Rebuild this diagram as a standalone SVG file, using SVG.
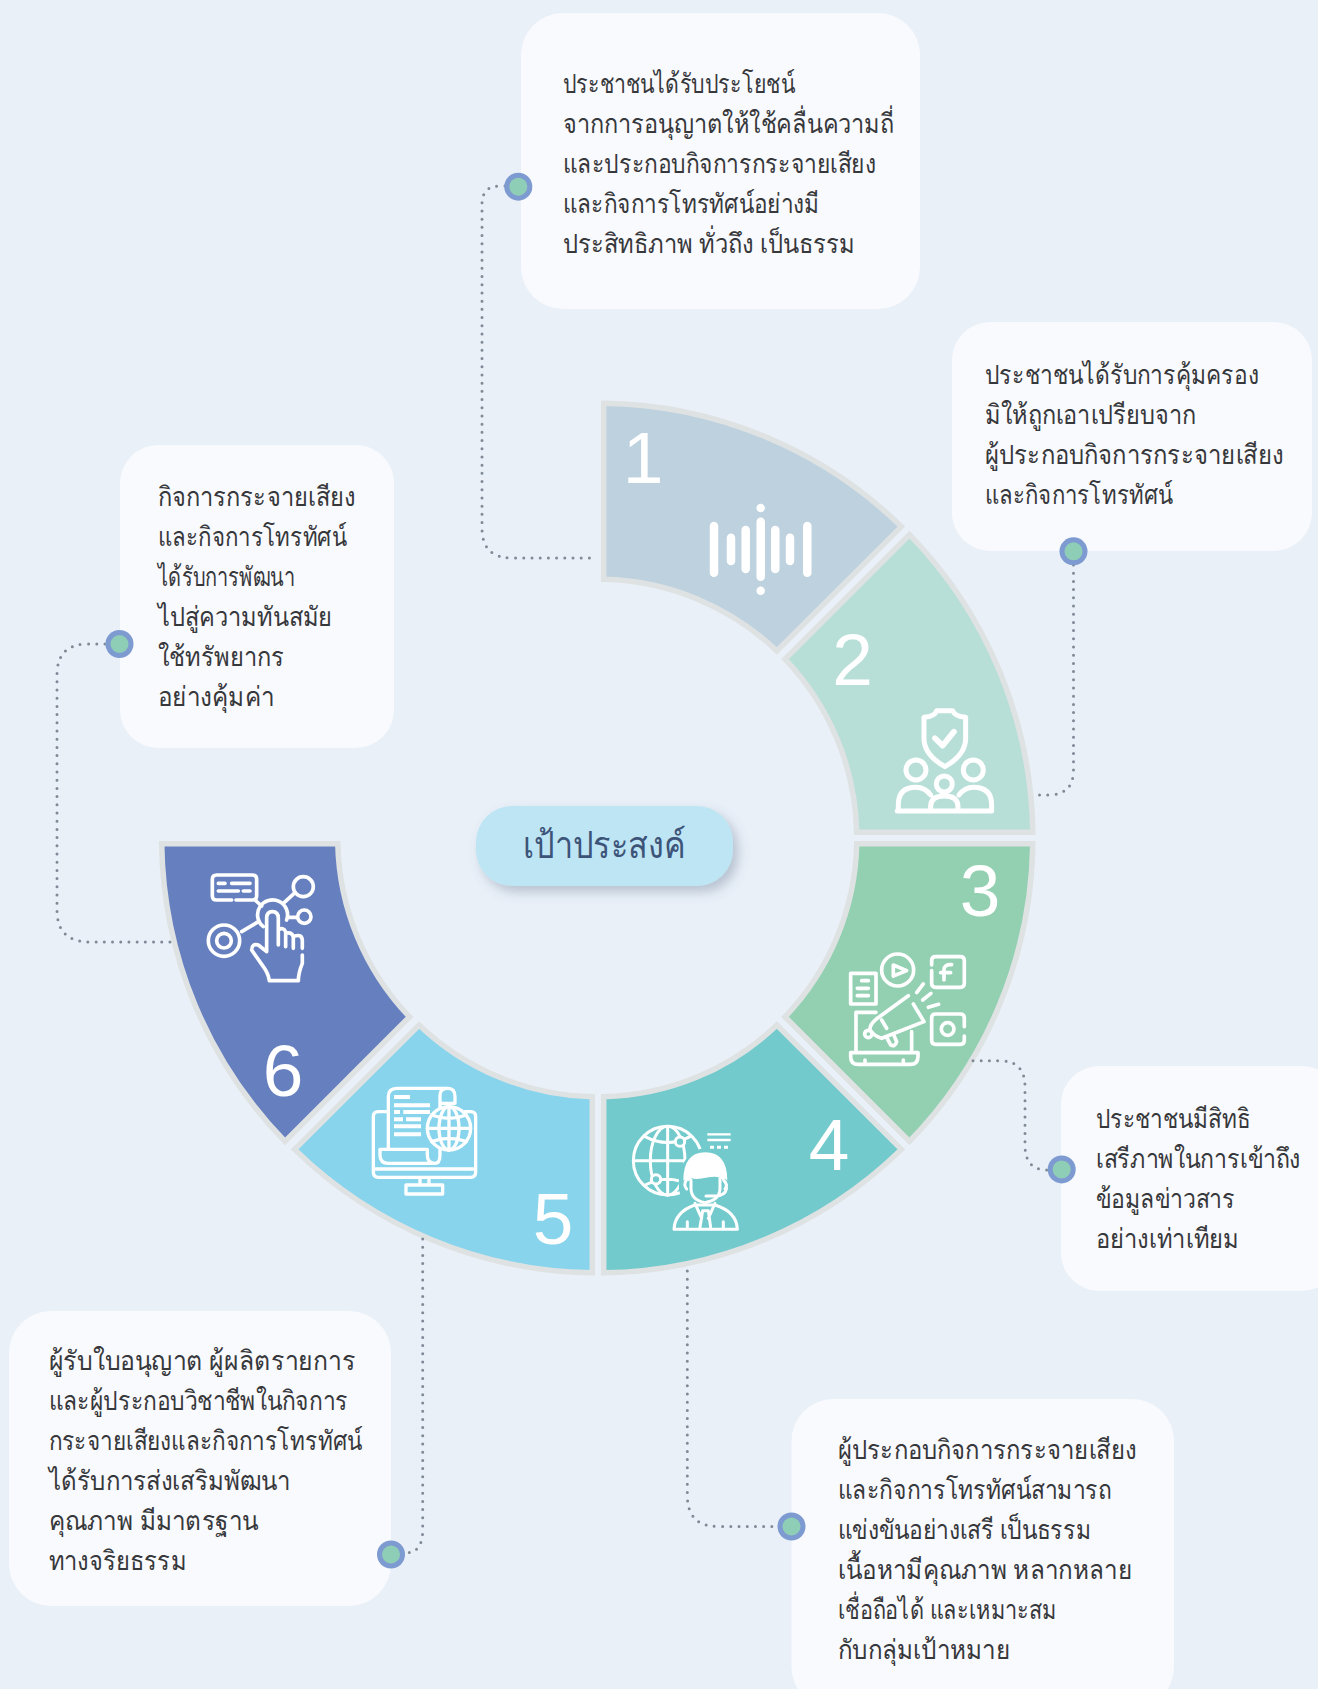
<svg xmlns="http://www.w3.org/2000/svg" width="1318" height="1689" viewBox="0 0 1318 1689">
<defs>
<style>
.seg{stroke:#DFE2E3;stroke-width:5.5;stroke-linejoin:miter}
.num{font-family:"Liberation Sans",Arial,sans-serif;font-size:73px;fill:#fff;text-anchor:middle}
.card{fill:#F9FAFD}
.t{font-family:"Noto Sans","Liberation Sans",sans-serif;font-size:27px;fill:#37383C;font-weight:300}
.conn{fill:none;stroke:#7F8A96;stroke-width:3;stroke-linecap:round;stroke-dasharray:0 8.2}
.do{fill:#7E9BD1}.di{fill:#8FCEB6}
.ic{fill:none;stroke:#fff;stroke-linecap:round;stroke-linejoin:round}
.w{fill:#fff;stroke:none}
</style>
<filter id="sh" x="-20%" y="-30%" width="150%" height="180%"><feDropShadow dx="5" dy="6" stdDeviation="6" flood-color="#5A6A85" flood-opacity=".35"/></filter>
</defs>
<rect width="1318" height="1689" fill="#E9F0F8"/>
<g id="segment-1">
<path class="seg" fill="#BDD1DE" d="M603.7 403.2A434.8 434.8 0 0 1 901.4 526.6L776.9 651A258.8 258.8 0 0 0 603.7 579.3Z"/>
<text class="num" x="643" y="483">1</text>
<g class="ic" stroke-width="8.5"><path d="M714 526V572.7M731 537.7V561M745.7 530V569M760.7 521.7V576.7M775.3 530V569M790 537.7V561M807.3 526V572.7M760.7 508V508.1M760.7 590.7V590.8"/></g>
</g>
<g id="segment-2">
<path class="seg" fill="#B7DFD7" d="M909.5 534.6A434.8 434.8 0 0 1 1032.8 832.3H856.7A258.8 258.8 0 0 0 785 659.1Z"/>
<text class="num" x="852.5" y="685">2</text>
<g transform="translate(560 380) scale(.3333)" class="ic" stroke-width="15">
<path d="M1092 1012Q1125 1010 1130 992H1178Q1185 1010 1217 1012V1075Q1217 1125 1155 1160Q1092 1125 1092 1075Z"/>
<path d="M1125 1075L1148 1097L1182 1055" stroke-width="17"/>
<circle cx="1068" cy="1170" r="30"/><circle cx="1240" cy="1170" r="30"/><circle cx="1153" cy="1212" r="24"/>
<path d="M1012 1293H1295M1015 1293V1275Q1015 1222 1068 1222Q1095 1222 1112 1245M1295 1293V1275Q1295 1222 1240 1222Q1215 1222 1197 1245M1112 1293V1280Q1112 1248 1153 1248Q1194 1248 1194 1280V1293"/>
</g>
</g>
<g id="segment-3">
<path class="seg" fill="#93D0B2" d="M1032.8 843.7A434.8 434.8 0 0 1 909.5 1141.4L785 1016.9A258.8 258.8 0 0 0 856.7 843.7Z"/>
<text class="num" x="980" y="916">3</text>
<g transform="translate(770 830) scale(.3333)" class="ic" stroke-width="11">
<path d="M242 430H318V522H242ZM275 452H295M262 475H295M262 497H295"/>
<circle cx="383" cy="420" r="48"/><path d="M370 405L410 422L370 438Z"/>
<path d="M485 405V392Q485 380 497 380H571Q583 380 583 392V460Q583 472 571 472H497Q485 472 485 460V422M545 404Q522 402 522 420V450M512 428H542"/>
<path d="M583 590V564Q583 552 571 552H497Q485 552 485 564V631Q485 643 497 643H571Q583 643 583 631V618"/><circle cx="533" cy="597" r="19"/>
<path d="M440 488L460 462M458 510L483 490M475 532L506 523"/>
<path d="M415 497L318 568Q298 585 300 600M430 522L462 575L335 625Q315 620 300 600M335 570L350 595"/><circle cx="295" cy="612" r="11"/>
<path d="M350 622L362 645Q375 652 380 635L370 612"/>
<path d="M318 547H258V665M425 605V665M242 668H444V680Q444 703 420 703H265Q242 703 242 680ZM285 690V695M400 690V695"/>
</g>
</g>
<g id="segment-4">
<path class="seg" fill="#72CACC" d="M603.7 1272.8A434.8 434.8 0 0 0 901.4 1149.4L776.9 1025A258.8 258.8 0 0 1 603.7 1096.7Z"/>
<text class="num" x="829" y="1170">4</text>
<g transform="translate(600 1090) scale(.3333)" class="ic" stroke-width="9">
<circle cx="203" cy="212" r="103"/><ellipse cx="203" cy="212" rx="52" ry="103"/>
<path d="M203 110V315M100 212H270M135 140Q203 175 270 140M135 285Q203 250 270 285"/>
<circle cx="240" cy="155" r="14" fill="#72CACC"/><circle cx="168" cy="268" r="14" fill="#72CACC"/>
<ellipse cx="316" cy="280" rx="80" ry="105" fill="#72CACC" stroke="none"/>
<path class="w" d="M250 272Q250 187 316 187Q382 187 382 272Q375 262 368 272Q360 255 325 262Q290 270 275 265L265 274Q255 265 250 272Z"/>
<path d="M273 270V295Q273 330 315 338Q360 330 360 295V265M258 272Q250 285 260 297M372 272Q385 285 375 297M318 318H345Q375 318 380 295"/>
<path d="M222 418Q225 365 285 345H345Q410 365 412 418ZM285 340L305 385M345 340L325 385M308 362H325L332 412M300 412L308 362M262 395V415M370 395V415"/>
<path d="M322 133H392M322 150H392" stroke-linecap="butt" stroke-width="7"/>
<path d="M330 172H342M351 172H363M372 172H384" stroke-linecap="butt" stroke-width="9"/>
</g>
</g>
<g id="segment-5">
<path class="seg" fill="#88D4EC" d="M592.3 1272.8A434.8 434.8 0 0 1 294.6 1149.4L419.1 1025A258.8 258.8 0 0 0 592.3 1096.7Z"/>
<text class="num" x="553" y="1244">5</text>
<g transform="translate(340 1060) scale(.3333)" class="ic" stroke-width="10">
<path d="M140 155H115Q100 155 100 170V335Q100 352 115 352H392Q407 352 407 335V170Q407 155 392 155H375M100 327H407M240 352V375M267 352V375M198 375H308V402H198Z"/>
<path d="M145 265V110Q145 85 170 85H325Q345 85 345 110V130H300M300 145V105Q300 85 325 85M120 268H262V285Q262 310 285 310Q300 310 300 285V265M120 268V285Q120 310 145 310H285"/>
<path class="w" d="M162 105h48v12h-48zM162 130h108v12h-108zM162 150h18v12h-18zM190 150h80v12h-80zM162 172h27v12h-27zM198 172h45v12h-45zM162 193h81v12h-81zM162 217h81v12h-81z"/>
<circle cx="327" cy="205" r="65" fill="#88D4EC"/><ellipse cx="327" cy="205" rx="30" ry="65"/>
<path d="M327 140V270M262 205H392M275 165Q327 185 379 165M275 245Q327 225 379 245"/>
</g>
</g>
<g id="segment-6">
<g transform="translate(-1.5 0)"><path class="seg" fill="#667FBE" d="M163.2 843.7H339.3A258.8 258.8 0 0 0 411 1016.9L286.5 1141.4A434.8 434.8 0 0 1 163.2 843.7Z"/></g>
<text class="num" x="283" y="1096">6</text>
<g transform="translate(150 830) scale(.3333)" class="ic" stroke-width="11">
<path d="M245 210H200Q187 210 187 197V148Q187 135 200 135H307Q320 135 320 148V197Q320 210 307 210H258M205 160H225M245 160H300M205 183H265M280 183H300"/>
<path d="M340 290A45 45 0 1 1 410 270M315 210L335 228M400 220L435 188M415 262H440M275 305L325 275"/>
<circle cx="460" cy="170" r="30"/><circle cx="463" cy="260" r="20"/><circle cx="222" cy="332" r="47"/><circle cx="222" cy="332" r="22"/>
<path d="M350 365V265Q350 245 367 245Q385 245 385 265V345M385 300Q400 290 407 305V350M407 310Q425 305 430 320V355M430 320Q455 310 457 330V355M457 375V400Q445 430 445 452H358Q355 430 340 410L305 360Q305 340 325 345L350 365"/>
</g>
</g>
<g id="connectors">
<path class="conn" d="M505 186H500Q482 186 482 204V528Q482 558 512 558H594"/>
<path class="conn" d="M1073.5 565V770Q1073.5 795 1048 795H1034"/>
<path class="conn" d="M973 1060.7H1000Q1025 1060.7 1025 1087V1145Q1025 1170 1047 1170"/>
<path class="conn" d="M687.3 1271V1495Q687.3 1526.5 718 1526.5H778"/>
<path class="conn" d="M422.7 1239V1530Q422.7 1553 405 1553"/>
<path class="conn" d="M105 644H88Q57 644 57 675V910Q57 942 90 942H170"/>
</g>
<g id="center">
<rect x="476" y="806" width="257" height="80" rx="36" fill="#BEE5F4" filter="url(#sh)"/>
<text x="523" y="858" textLength="163" lengthAdjust="spacingAndGlyphs" font-family="'Noto Sans','Liberation Sans',sans-serif" font-size="37" font-weight="500" fill="#3D5479">เป้าประสงค์</text>
</g>
<g id="card-1">
<rect class="card" x="521" y="13" width="399" height="296" rx="42"/>
<text class="t" lengthAdjust="spacingAndGlyphs" textLength="231.7" x="563" y="92.7">ประชาชนได้รับประโยชน์</text>
<text class="t" lengthAdjust="spacingAndGlyphs" textLength="331" x="563" y="132.7">จากการอนุญาตให้ใช้คลื่นความถี่</text>
<text class="t" lengthAdjust="spacingAndGlyphs" textLength="313" x="563" y="172.7">และประกอบกิจการกระจายเสียง</text>
<text class="t" lengthAdjust="spacingAndGlyphs" textLength="256" x="563" y="212.7">และกิจการโทรทัศน์อย่างมี</text>
<text class="t" lengthAdjust="spacingAndGlyphs" textLength="292" x="563" y="252.7">ประสิทธิภาพ ทั่วถึง เป็นธรรม</text>
<circle class="do" cx="518.3" cy="186.7" r="14"/><circle class="di" cx="518.3" cy="186.7" r="9"/>
</g>
<g id="card-2">
<rect class="card" x="952" y="322" width="360" height="229" rx="38"/>
<text class="t" lengthAdjust="spacingAndGlyphs" textLength="273.5" x="985" y="383.6">ประชาชนได้รับการคุ้มครอง</text>
<text class="t" lengthAdjust="spacingAndGlyphs" textLength="211" x="985" y="423.6">มิให้ถูกเอาเปรียบจาก</text>
<text class="t" lengthAdjust="spacingAndGlyphs" textLength="298.3" x="985" y="463.6">ผู้ประกอบกิจการกระจายเสียง</text>
<text class="t" lengthAdjust="spacingAndGlyphs" textLength="187.4" x="985" y="503.6">และกิจการโทรทัศน์</text>
<circle class="do" cx="1073.5" cy="551.3" r="14"/><circle class="di" cx="1073.5" cy="551.3" r="9"/>
</g>
<g id="card-3">
<rect class="card" x="1061" y="1066" width="279" height="225" rx="38"/>
<text class="t" lengthAdjust="spacingAndGlyphs" textLength="154" x="1096" y="1127.7">ประชาชนมีสิทธิ</text>
<text class="t" lengthAdjust="spacingAndGlyphs" textLength="204.6" x="1096" y="1167.7">เสรีภาพในการเข้าถึง</text>
<text class="t" lengthAdjust="spacingAndGlyphs" textLength="139" x="1096" y="1207.7">ข้อมูลข่าวสาร</text>
<text class="t" lengthAdjust="spacingAndGlyphs" textLength="143.2" x="1096" y="1247.7">อย่างเท่าเทียม</text>
<circle class="do" cx="1061.7" cy="1169.4" r="14"/><circle class="di" cx="1061.7" cy="1169.4" r="9"/>
</g>
<g id="card-4">
<rect class="card" x="791.5" y="1399" width="382.5" height="310" rx="42"/>
<text class="t" lengthAdjust="spacingAndGlyphs" textLength="298.3" x="838" y="1459">ผู้ประกอบกิจการกระจายเสียง</text>
<text class="t" lengthAdjust="spacingAndGlyphs" textLength="273.5" x="838" y="1499">และกิจการโทรทัศน์สามารถ</text>
<text class="t" lengthAdjust="spacingAndGlyphs" textLength="253" x="838" y="1539">แข่งขันอย่างเสรี เป็นธรรม</text>
<text class="t" lengthAdjust="spacingAndGlyphs" textLength="294" x="838" y="1579">เนื้อหามีคุณภาพ หลากหลาย</text>
<text class="t" lengthAdjust="spacingAndGlyphs" textLength="218.6" x="838" y="1619">เชื่อถือได้ และเหมาะสม</text>
<text class="t" lengthAdjust="spacingAndGlyphs" textLength="172.3" x="838" y="1659">กับกลุ่มเป้าหมาย</text>
<circle class="do" cx="791.5" cy="1526.5" r="14"/><circle class="di" cx="791.5" cy="1526.5" r="9"/>
</g>
<g id="card-5">
<rect class="card" x="9" y="1311" width="382" height="295" rx="42"/>
<text class="t" lengthAdjust="spacingAndGlyphs" textLength="306.9" x="48.5" y="1370">ผู้รับใบอนุญาต ผู้ผลิตรายการ</text>
<text class="t" lengthAdjust="spacingAndGlyphs" textLength="299.4" x="48.5" y="1410">และผู้ประกอบวิชาชีพในกิจการ</text>
<text class="t" lengthAdjust="spacingAndGlyphs" textLength="313.3" x="48.5" y="1450">กระจายเสียงและกิจการโทรทัศน์</text>
<text class="t" lengthAdjust="spacingAndGlyphs" textLength="242.3" x="48.5" y="1490">ได้รับการส่งเสริมพัฒนา</text>
<text class="t" lengthAdjust="spacingAndGlyphs" textLength="210" x="48.5" y="1530">คุณภาพ มีมาตรฐาน</text>
<text class="t" lengthAdjust="spacingAndGlyphs" textLength="137.8" x="48.5" y="1570">ทางจริยธรรม</text>
<circle class="do" cx="391" cy="1554.5" r="14"/><circle class="di" cx="391" cy="1554.5" r="9"/>
</g>
<g id="card-6">
<rect class="card" x="120" y="445" width="274" height="303" rx="38"/>
<text class="t" lengthAdjust="spacingAndGlyphs" textLength="197" x="158" y="506.4">กิจการกระจายเสียง</text>
<text class="t" lengthAdjust="spacingAndGlyphs" textLength="188.4" x="158" y="546.4">และกิจการโทรทัศน์</text>
<text class="t" lengthAdjust="spacingAndGlyphs" textLength="136.8" x="158" y="586.4">ได้รับการพัฒนา</text>
<text class="t" lengthAdjust="spacingAndGlyphs" textLength="174.4" x="158" y="626.4">ไปสู่ความทันสมัย</text>
<text class="t" lengthAdjust="spacingAndGlyphs" textLength="126" x="158" y="666.4">ใช้ทรัพยากร</text>
<text class="t" lengthAdjust="spacingAndGlyphs" textLength="116.3" x="158" y="706.4">อย่างคุ้มค่า</text>
<circle class="do" cx="119.5" cy="644" r="14"/><circle class="di" cx="119.5" cy="644" r="9"/>
</g>
</svg>
